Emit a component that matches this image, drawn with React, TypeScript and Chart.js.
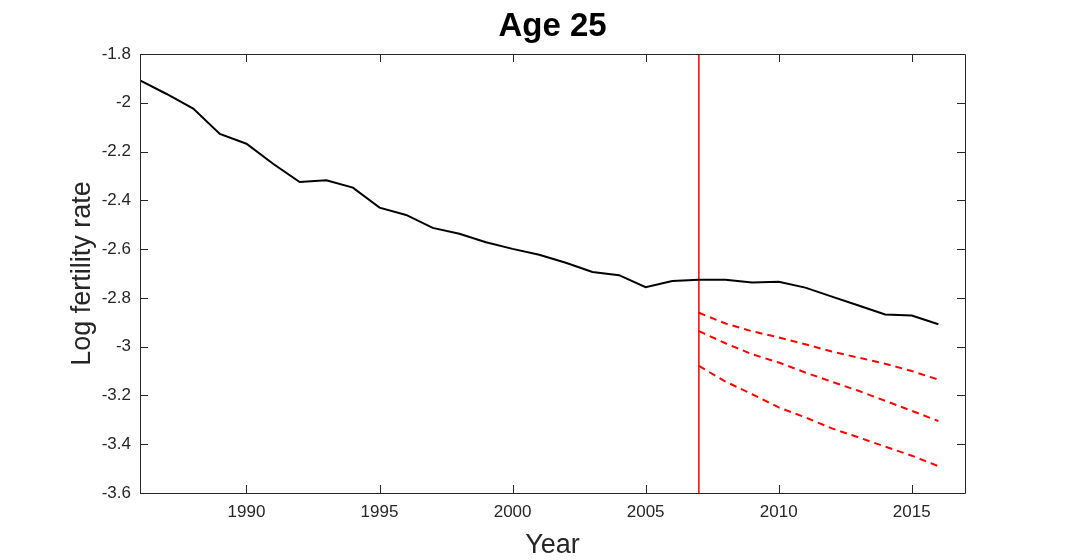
import React, { useEffect, useRef } from "react";
import { Chart, registerables } from "chart.js";

Chart.register(...registerables);

const years = [1986, 1987, 1988, 1989, 1990, 1991, 1992, 1993, 1994, 1995, 1996, 1997, 1998, 1999, 2000, 2001, 2002, 2003, 2004, 2005, 2006, 2007, 2008, 2009, 2010, 2011, 2012, 2013, 2014, 2015, 2016];
const observed = [-1.908, -1.964, -2.024, -2.128, -2.168, -2.25, -2.325, -2.318, -2.348, -2.43, -2.46, -2.513, -2.537, -2.572, -2.599, -2.623, -2.656, -2.694, -2.707, -2.756, -2.731, -2.726, -2.726, -2.737, -2.734, -2.758, -2.795, -2.831, -2.868, -2.872, -2.908];

const forecastYears = [2007, 2008, 2009, 2010, 2011, 2012, 2013, 2014, 2015, 2016];
const forecastUpper = [-2.861, -2.905, -2.937, -2.962, -2.99, -3.02, -3.045, -3.07, -3.1, -3.135];
const forecastMid = [-2.936, -2.986, -3.031, -3.065, -3.106, -3.144, -3.181, -3.222, -3.263, -3.305];
const forecastLower = [-3.079, -3.143, -3.195, -3.249, -3.29, -3.335, -3.372, -3.41, -3.447, -3.49];

const cutoffYear = 2007;
const xTicks = [1990, 1995, 2000, 2005, 2010, 2015];
const yTicks = [-1.8, -2, -2.2, -2.4, -2.6, -2.8, -3, -3.2, -3.4, -3.6];
const xMin = 1986;
const xMax = 2017;
const yMin = -3.6;
const yMax = -1.8;

const FONT = "Arial, 'Liberation Sans', Helvetica, sans-serif";
const AXIS_COLOR = "#262626";

const toPoints = (xs: number[], ys: number[]) => xs.map((x, i) => ({ x, y: ys[i] }));

const boxTicksPlugin = {
  id: "boxTicks",
  afterDatasetsDraw(chart: any) {
    const { ctx, chartArea, scales } = chart;
    const { left, right, top, bottom } = chartArea;
    const len = 8;
    ctx.save();
    ctx.strokeStyle = AXIS_COLOR;
    ctx.lineWidth = 1;
    ctx.beginPath();
    ctx.rect(left + 0.5, top + 0.5, right - left, bottom - top);
    for (const v of xTicks) {
      const px = Math.round(scales.x.getPixelForValue(v)) + 0.5;
      ctx.moveTo(px, bottom);
      ctx.lineTo(px, bottom - len);
      ctx.moveTo(px, top);
      ctx.lineTo(px, top + len);
    }
    for (const v of yTicks) {
      const py = Math.round(scales.y.getPixelForValue(v)) + 0.5;
      ctx.moveTo(left, py);
      ctx.lineTo(left + len, py);
      ctx.moveTo(right, py);
      ctx.lineTo(right - len, py);
    }
    ctx.stroke();
    ctx.restore();
  },
};

export default function App() {
  const ref = useRef<HTMLCanvasElement | null>(null);

  useEffect(() => {
    if (!ref.current) return;
    const dashed = {
      borderColor: "#ff0000",
      borderWidth: 2,
      borderDash: [7, 5],
      pointRadius: 0,
      showLine: true,
      fill: false,
    };
    const chart = new Chart(ref.current, {
      type: "scatter",
      data: {
        datasets: [
          {
            data: toPoints(years, observed),
            borderColor: "#000000",
            borderWidth: 2,
            pointRadius: 0,
            showLine: true,
            fill: false,
          },
          {
            data: [
              { x: cutoffYear, y: yMax },
              { x: cutoffYear, y: yMin },
            ],
            borderColor: "#ff0000",
            borderWidth: 1.5,
            pointRadius: 0,
            showLine: true,
            fill: false,
          },
          { data: toPoints(forecastYears, forecastUpper), ...dashed },
          { data: toPoints(forecastYears, forecastMid), ...dashed },
          { data: toPoints(forecastYears, forecastLower), ...dashed },
        ],
      },
      options: {
        animation: false,
        responsive: false,
        devicePixelRatio: 1,
        layout: { padding: { left: 38, right: 0, top: 0, bottom: 0 } },
        plugins: {
          legend: { display: false },
          tooltip: { enabled: false },
          title: {
            display: true,
            text: "Age 25",
            color: "#000000",
            font: { family: FONT, size: 33, weight: "bold" },
            padding: { top: 7.5, bottom: 6.9 },
          },
        },
        scales: {
          x: {
            type: "linear",
            min: xMin,
            max: xMax,
            grid: { display: false, drawTicks: false },
            border: { display: false },
            afterBuildTicks: (scale: any) => {
              scale.ticks = xTicks.map((v) => ({ value: v }));
            },
            afterFit: (scale: any) => {
              scale.height = 67;
            },
            ticks: {
              color: AXIS_COLOR,
              font: { family: FONT, size: 17 },
              padding: 9,
              maxRotation: 0,
              callback: (v: any) => String(v),
            },
            title: {
              display: true,
              text: "Year",
              color: AXIS_COLOR,
              font: { family: FONT, size: 27, lineHeight: 1.1 },
              padding: { top: 0, bottom: 0 },
            },
          },
          y: {
            type: "linear",
            position: "left",
            min: yMin,
            max: yMax,
            grid: { display: false, drawTicks: false },
            border: { display: false },
            afterBuildTicks: (scale: any) => {
              scale.ticks = yTicks.map((v) => ({ value: v }));
            },
            afterFit: (scale: any) => {
              scale.width = 102;
            },
            ticks: {
              color: AXIS_COLOR,
              font: { family: FONT, size: 17 },
              padding: 9,
              callback: (v: any) => String(Math.round(Number(v) * 10) / 10),
            },
            title: {
              display: true,
              text: "Log fertility rate",
              color: AXIS_COLOR,
              font: { family: FONT, size: 27 },
              padding: { top: 28, bottom: 0 },
            },
          },
          yRight: {
            type: "linear",
            position: "right",
            display: true,
            grid: { display: false, drawTicks: false },
            border: { display: false },
            ticks: { display: false },
            afterFit: (scale: any) => {
              scale.width = 102;
            },
          },
        },
      },
      plugins: [boxTicksPlugin],
    } as any);
    return () => chart.destroy();
  }, []);

  return (
    <div style={{ position: "fixed", left: 0, top: 0, width: 1067, height: 560, background: "#ffffff" }}>
      <canvas ref={ref} width={1067} height={560} style={{ display: "block", width: 1067, height: 560 }} />
    </div>
  );
}
